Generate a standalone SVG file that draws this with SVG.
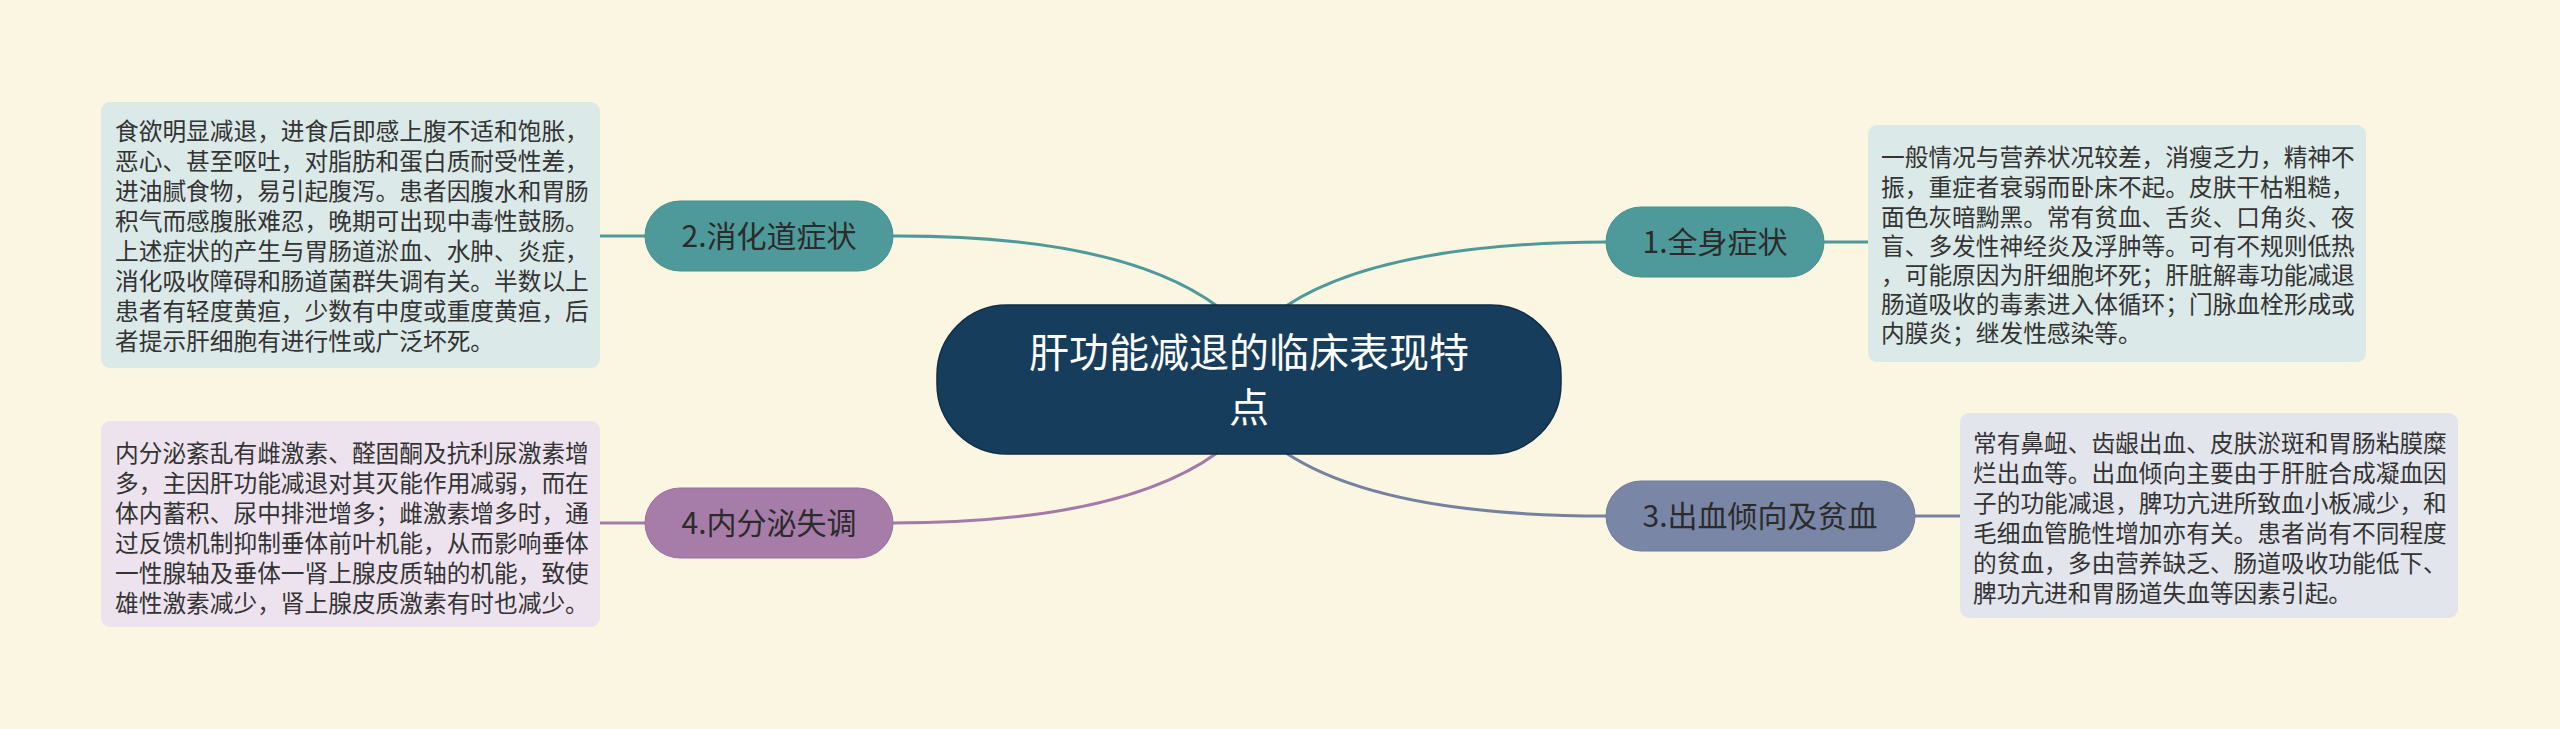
<svg xmlns="http://www.w3.org/2000/svg" width="2560" height="729" viewBox="0 0 2560 729">
<style>
.bg{fill:#fbf6e1}
.lnk{fill:none;stroke-width:3}
.t{stroke:#4e9a9a}.p{stroke:#a57aa8}.b{stroke:#75819f}
.node{font-family:"Noto Sans CJK SC","Noto Sans",sans-serif;font-size:30px;fill:#2b2b2b;text-anchor:middle}
.det{font-family:"Noto Sans CJK SC","Noto Sans",sans-serif;font-size:23.7px;fill:#333333}
.root{font-family:"Noto Sans CJK SC","Noto Sans",sans-serif;font-size:40px;fill:#ffffff;text-anchor:middle}
</style>
<rect class="bg" x="0" y="0" width="2560" height="729"/>
<g id="connectors">
<path class="lnk t" d="M1217 306 Q1120 235 892 236"/>
<path class="lnk t" d="M1286 306 Q1382 243 1606 242"/>
<path class="lnk p" d="M1217 453 Q1120 523 892 523"/>
<path class="lnk b" d="M1286 453 Q1382 516 1606 516"/>
<line class="lnk t" x1="600" y1="236" x2="645" y2="236"/>
<line class="lnk t" x1="1824" y1="242" x2="1868" y2="242"/>
<line class="lnk p" x1="600" y1="523" x2="645" y2="523"/>
<line class="lnk b" x1="1915" y1="516" x2="1960" y2="516"/>
</g>
<g id="root">
<rect x="937" y="305" width="624" height="149" rx="70" fill="#173d5c" stroke="#0f2d46" stroke-width="1.5"/>
<text class="root" x="1249" y="367">肝功能减退的临床表现特</text>
<text class="root" x="1249" y="422">点</text>
</g>
<g id="n1">
<rect x="1606" y="207" width="218" height="70" rx="35" fill="#4e9a9a" stroke="#468f8f" stroke-width="1"/>
<text class="node" x="1715" y="253">1.全身症状</text>
</g>
<g id="d1">
<rect x="1868" y="125" width="498" height="237" rx="9" fill="#dbe9e8"/>
<text class="det" x="1881" y="166">一般情况与营养状况较差，消瘦乏力，精神不</text>
<text class="det" x="1881" y="196">振，重症者衰弱而卧床不起。皮肤干枯粗糙，</text>
<text class="det" x="1881" y="226">面色灰暗黝黑。常有贫血、舌炎、口角炎、夜</text>
<text class="det" x="1881" y="255">盲、多发性神经炎及浮肿等。可有不规则低热</text>
<text class="det" x="1881" y="284">，可能原因为肝细胞坏死；肝脏解毒功能减退</text>
<text class="det" x="1881" y="313">肠道吸收的毒素进入体循环；门脉血栓形成或</text>
<text class="det" x="1881" y="342">内膜炎；继发性感染等。</text>
</g>
<g id="n2">
<rect x="645" y="201" width="248" height="70" rx="35" fill="#4e9a9a" stroke="#468f8f" stroke-width="1"/>
<text class="node" x="769" y="247">2.消化道症状</text>
</g>
<g id="d2">
<rect x="101" y="102" width="499" height="266" rx="9" fill="#dbe9e8"/>
<text class="det" x="115" y="140">食欲明显减退，进食后即感上腹不适和饱胀，</text>
<text class="det" x="115" y="170">恶心、甚至呕吐，对脂肪和蛋白质耐受性差，</text>
<text class="det" x="115" y="200">进油腻食物，易引起腹泻。患者因腹水和胃肠</text>
<text class="det" x="115" y="230">积气而感腹胀难忍，晚期可出现中毒性鼓肠。</text>
<text class="det" x="115" y="260">上述症状的产生与胃肠道淤血、水肿、炎症，</text>
<text class="det" x="115" y="290">消化吸收障碍和肠道菌群失调有关。半数以上</text>
<text class="det" x="115" y="320">患者有轻度黄疸，少数有中度或重度黄疸，后</text>
<text class="det" x="115" y="350">者提示肝细胞有进行性或广泛坏死。</text>
</g>
<g id="n3">
<rect x="1606" y="481" width="309" height="70" rx="35" fill="#7a86a6" stroke="#6e7a99" stroke-width="1"/>
<text class="node" x="1760" y="527">3.出血倾向及贫血</text>
</g>
<g id="d3">
<rect x="1960" y="413" width="498" height="205" rx="9" fill="#e3e5ec"/>
<text class="det" x="1973" y="452">常有鼻衄、齿龈出血、皮肤淤斑和胃肠粘膜糜</text>
<text class="det" x="1973" y="482">烂出血等。出血倾向主要由于肝脏合成凝血因</text>
<text class="det" x="1973" y="512">子的功能减退，脾功亢进所致血小板减少，和</text>
<text class="det" x="1973" y="542">毛细血管脆性增加亦有关。患者尚有不同程度</text>
<text class="det" x="1973" y="572">的贫血，多由营养缺乏、肠道吸收功能低下、</text>
<text class="det" x="1973" y="602">脾功亢进和胃肠道失血等因素引起。</text>
</g>
<g id="n4">
<rect x="645" y="488" width="248" height="70" rx="35" fill="#a67ca8" stroke="#9a6f9c" stroke-width="1"/>
<text class="node" x="769" y="534">4.内分泌失调</text>
</g>
<g id="d4">
<rect x="101" y="421" width="499" height="206" rx="9" fill="#ede3ee"/>
<text class="det" x="115" y="462">内分泌紊乱有雌激素、醛固酮及抗利尿激素增</text>
<text class="det" x="115" y="492">多，主因肝功能减退对其灭能作用减弱，而在</text>
<text class="det" x="115" y="522">体内蓄积、尿中排泄增多；雌激素增多时，通</text>
<text class="det" x="115" y="552">过反馈机制抑制垂体前叶机能，从而影响垂体</text>
<text class="det" x="115" y="582">一性腺轴及垂体一肾上腺皮质轴的机能，致使</text>
<text class="det" x="115" y="612">雄性激素减少，肾上腺皮质激素有时也减少。</text>
</g>
</svg>
